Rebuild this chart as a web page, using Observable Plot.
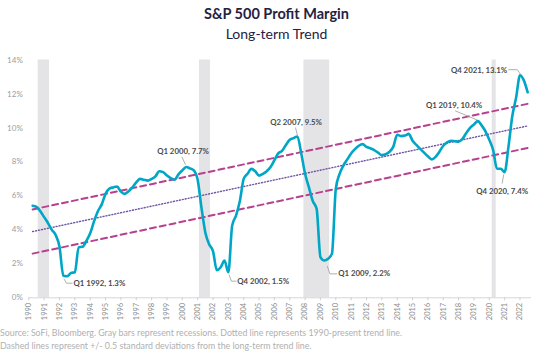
<!DOCTYPE html>
<html><head><meta charset="utf-8">
<script src="https://cdn.jsdelivr.net/npm/d3@7"></script>
<script src="https://cdn.jsdelivr.net/npm/@observablehq/plot@0.6"></script>
<style>
body{margin:0;background:#fff;font-family:Lato,sans-serif;}
#wrap{position:relative;width:553px;height:359px;overflow:hidden;background:#fff;}
#title{position:absolute;top:6px;left:0;width:553px;text-align:center;font-weight:700;font-size:14.5px;color:#25223f;line-height:16px;}
#sub{position:absolute;top:26px;left:0;width:553px;text-align:center;font-weight:400;font-size:14px;color:#25223f;line-height:16px;}
#chart{position:absolute;top:45px;left:0;}
.cap{position:absolute;left:0px;font-size:8.8px;color:#b0b0b0;white-space:nowrap;line-height:10px;}
</style></head>
<body>
<div id="wrap">
  <div id="title">S&amp;P 500 Profit Margin</div>
  <div id="sub">Long-term Trend</div>
  <div id="chart"></div>
  <div class="cap" style="top:328px">Source: SoFi, Bloomberg. Gray bars represent recessions. Dotted line represents 1990-present trend line.</div>
  <div class="cap" style="top:341px">Dashed lines represent +/- 0.5 standard deviations from the long-term trend line.</div>
</div>
<script>
// Quarterly S&P 500 profit margin (%), Q1 1990 .. Q2 2022
const firstYear = 1990;
const margins = [
  5.42,5.35,5.1,4.75,   4.4,4.0,3.7,3.0,     1.3,1.27,1.46,1.5,   2.98,3.0,3.35,3.8,
  4.5,5.1,5.5,6.12,     6.43,6.5,6.55,6.25,  6.12,6.27,6.5,6.8,   7.0,6.95,6.9,7.0,
  7.15,7.45,7.4,7.2,    7.05,6.95,7.27,7.5,  7.7,7.62,7.5,6.95,   5.3,3.85,3.15,2.75,
  1.62,1.8,2.19,1.5,    4.25,4.84,5.7,7.0,   7.3,7.59,7.45,7.19,  7.3,7.45,7.7,8.1,
  8.5,8.65,9.0,9.3,     9.4,9.5,8.5,7.3,     6.5,5.7,5.25,2.4,    2.2,2.3,2.6,6.4,
  7.3,7.8,8.15,8.5,     8.75,8.95,9.05,8.88, 8.8,8.7,8.55,8.4,    8.45,8.6,8.9,9.6,
  9.52,9.55,9.65,9.25,  9.0,8.77,8.55,8.33,  8.15,8.3,8.6,8.95,   9.15,9.25,9.22,9.19,
  9.35,9.7,10.0,10.2,   10.4,10.15,9.8,9.3,  8.7,7.6,7.6,7.4,     8.9,10.7,11.8,13.1,
  12.8,12.1
];
// Recessions (decimal years)
const recStart = [1990.61, 2001.12, 2007.92, 2020.19];
const recEnd   = [1991.35, 2001.84, 2009.6, 2020.45];
// Trend line (dotted) endpoints and +/- band (dashed)
const trendYears = [1990.25, 2022.5];
const trendValues = [3.9, 10.12];
const bandOffset = 1.3;
// Axis ticks
const xTickYears = d3.range(1990, 2023);
const yTickValues = [0, 2, 4, 6, 8, 10, 12, 14];
// Annotations
const annLabels  = ["Q1 1992, 1.3%","Q4 2002, 1.5%","Q1 2009, 2.2%","Q1 2000, 7.7%","Q2 2007, 9.5%","Q1 2019, 10.4%","Q4 2020, 7.4%","Q4 2021, 13.1%"];
const annTextX   = [1992.91, 2003.58, 2010.16, 2000.05, 2007.41, 2019.54, 2020.84, 2021.17];
const annTextY   = [0.86, 0.98, 1.41, 8.61, 10.33, 11.31, 6.25, 13.37];
const annAnchor  = ["start","start","start","middle","middle","end","middle","end"];
const annLeaders = [
  [[1992.3,1.1],[1992.45,0.86],[1992.82,0.86]],
  [[2003.05,1.35],[2003.2,0.98],[2003.5,0.98]],
  [[2009.45,1.85],[2009.62,1.41],[2010.06,1.41]],
  [[1999.99,8.27],[2000.2,7.85]],
  [[2007.38,10.0],[2007.49,9.6]],
  [[2017.8,11.0],[2019.2,10.47]],
  [[2020.94,7.25],[2020.84,6.75]],
  [[2021.27,13.43],[2021.82,13.43],[2022.05,13.15]]
];

const series = margins.map((v, i) => ({year: firstYear + (i + 1) / 4, value: v}));
const recessions = recStart.map((s, i) => ({start: s, end: recEnd[i]}));
const trend = trendYears.map((y, i) => ({year: y, value: trendValues[i]}));
const upper = trend.map(d => ({year: d.year, value: d.value + bandOffset}));
const lower = trend.map(d => ({year: d.year, value: d.value - bandOffset}));
const anns = annLabels.map((l, i) => ({label: l, x: annTextX[i], y: annTextY[i], anchor: annAnchor[i]}));
const leaders = annLeaders.flatMap((pts, k) => pts.map(p => ({id: k, x: p[0], y: p[1]})));

const textOpts = a => ({x: "x", y: "y", text: "label", textAnchor: a, fontSize: 7.8, fontWeight: "bold", fill: "#4a4a4a", filter: d => d.anchor === a});

const chart = Plot.plot({
  width: 553, height: 283,
  marginTop: 14.5, marginBottom: 30.7, marginLeft: 28.3, marginRight: 22,
  x: {domain: [1990, 2022.75]},
  y: {domain: [0, 14]},
  style: {fontFamily: "Lato, sans-serif", background: "transparent", overflow: "visible"},
  marks: [
    Plot.rect(recessions, {x1: "start", x2: "end", y1: 0, y2: 14, fill: "#e4e4e6"}),
    Plot.ruleY([0], {stroke: "#d6d6d6"}),
    Plot.axisX({ticks: xTickYears, tickFormat: d => String(d), tickRotate: -90, tickSize: 3, tickPadding: 2, fontSize: 7.5, color: "#8c8c8c", stroke: "#d0d0d0", label: null}),
    Plot.axisY({ticks: yTickValues, tickFormat: d => d + "%", tickSize: 0, tickPadding: 6, fontSize: 8, color: "#9c9c9c", label: null}),
    Plot.line(upper, {x: "year", y: "value", stroke: "#b8418f", strokeWidth: 2, strokeDasharray: "6,4"}),
    Plot.line(lower, {x: "year", y: "value", stroke: "#b8418f", strokeWidth: 2, strokeDasharray: "6,4"}),
    Plot.line(trend, {x: "year", y: "value", stroke: "#6f55a3", strokeWidth: 1.4, strokeDasharray: "1,2"}),
    Plot.line(series, {x: "year", y: "value", stroke: "#00a6c6", strokeWidth: 2.6, curve: "monotone-x"}),
    Plot.line(leaders, {x: "x", y: "y", z: "id", stroke: "#9a9a9a", strokeWidth: 0.8}),
    Plot.text(anns, textOpts("start")),
    Plot.text(anns, textOpts("middle")),
    Plot.text(anns, textOpts("end"))
  ]
});
document.getElementById("chart").appendChild(chart);
</script>
</body></html>
